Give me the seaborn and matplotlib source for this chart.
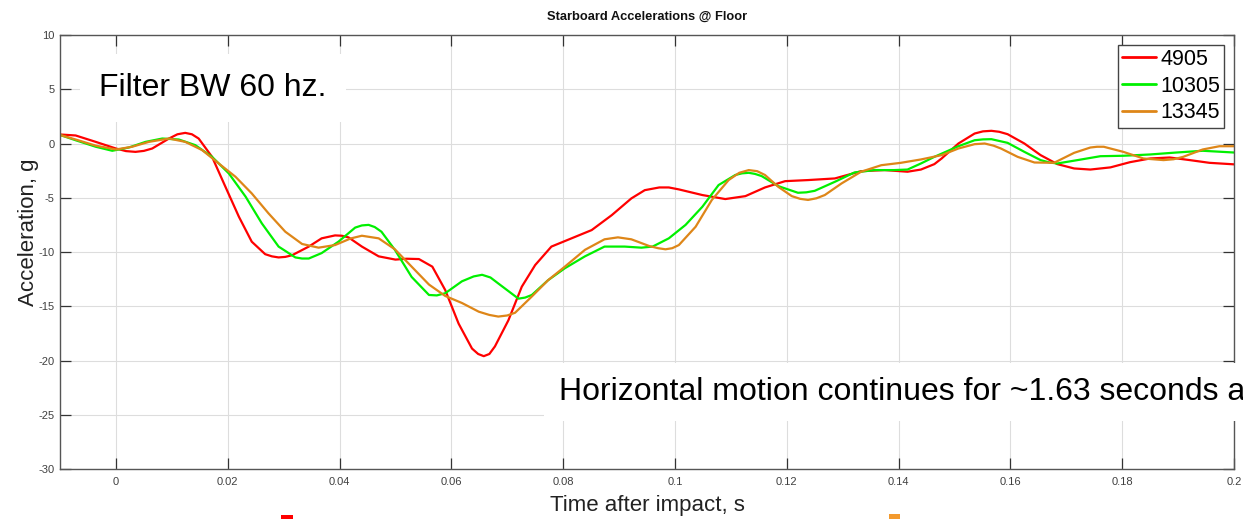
import numpy as np
import pandas as pd
import matplotlib
matplotlib.use("Agg")
import matplotlib.pyplot as plt
import seaborn as sns
from matplotlib.patches import Rectangle

# ---------------- data (time in ms, acceleration in g) ----------------
series_names = ["4905", "10305", "13345"]
series_colors = ["#FF0000", "#00F000", "#DE8618"]

t_4905 = [-9.9, -7.2, -3.6, 0.0, 1.8, 3.5, 5.0, 6.5, 9.5, 11.0, 12.4, 13.6, 14.8, 17.2,
          19.6, 22.0, 24.3, 26.7, 27.9, 29.1, 30.3, 31.5, 34.5, 36.8, 39.2, 40.4, 41.6,
          44.0, 47.0, 50.0, 52.0, 54.2, 56.6, 58.9, 61.3, 63.7, 64.8, 65.8, 66.8, 67.8,
          70.2, 72.6, 75.0, 77.9, 81.5, 85.1, 88.7, 92.2, 94.6, 97.2, 98.9, 100.7, 104.9,
          109.0, 112.6, 116.1, 119.7, 123.8, 128.6, 133.3, 137.5, 141.6, 144.0, 146.4,
          147.7, 150.7, 153.6, 155.1, 156.6, 158.0, 159.5, 162.5, 165.4, 168.4, 171.4,
          174.3, 177.9, 181.4, 185.0, 188.5, 192.1, 195.6, 200.0]
a_4905 = [0.83, 0.74, 0.15, -0.46, -0.7, -0.77, -0.68, -0.46, 0.46, 0.85, 0.98, 0.85,
          0.46, -1.23, -4.0, -6.75, -9.05, -10.2, -10.4, -10.5, -10.45, -10.3, -9.5,
          -8.74, -8.47, -8.5, -8.65, -9.5, -10.4, -10.7, -10.62, -10.65, -11.35, -13.5,
          -16.6, -18.9, -19.4, -19.6, -19.4, -18.7, -16.3, -13.2, -11.2, -9.5, -8.74,
          -7.98, -6.6, -5.06, -4.3, -4.05, -4.05, -4.23, -4.75, -5.12, -4.85, -4.05,
          -3.47, -3.37, -3.22, -2.55, -2.45, -2.6, -2.4, -1.9, -1.38, 0.0, 0.92, 1.12,
          1.17, 1.08, 0.86, 0.0, -1.07, -1.9, -2.3, -2.4, -2.2, -1.72, -1.38, -1.29,
          -1.53, -1.78, -1.92]

t_10305 = [-9.9, -7.2, -3.6, -0.65, 2.3, 5.3, 8.3, 11.25, 14.2, 17.2, 20.2, 23.2, 26.1,
           29.1, 32.1, 33.3, 34.5, 36.8, 39.8, 42.8, 44.0, 45.2, 46.3, 47.5, 49.9, 52.9,
           56.0, 57.4, 58.9, 61.9, 64.0, 65.5, 67.0, 68.4, 72.0, 73.2, 74.4, 77.3, 80.3,
           83.9, 87.4, 91.0, 94.0, 96.0, 98.9, 101.9, 104.9, 107.8, 110.8, 112.0, 113.2,
           114.3, 115.5, 118.5, 122.0, 123.5, 125.0, 128.6, 132.1, 135.7, 139.2, 141.6,
           144.0, 146.4, 150.7, 153.6, 155.1, 156.6, 159.5, 162.5, 165.4, 167.0, 168.4,
           172.0, 176.1, 180.2, 185.0, 189.7, 194.4, 200.0]
a_10305 = [0.77, 0.3, -0.3, -0.67, -0.37, 0.15, 0.46, 0.37, -0.15, -1.23, -2.76, -4.9,
           -7.36, -9.5, -10.5, -10.6, -10.6, -10.1, -9.05, -7.75, -7.55, -7.5, -7.7,
           -8.13, -9.8, -12.3, -13.96, -14.0, -13.8, -12.7, -12.25, -12.1, -12.35, -12.9,
           -14.3, -14.2, -13.96, -12.6, -11.5, -10.4, -9.5, -9.5, -9.6, -9.5, -8.74, -7.5,
           -5.83, -3.83, -2.9, -2.75, -2.7, -2.8, -3.0, -3.93, -4.54, -4.5, -4.36, -3.53,
           -2.67, -2.45, -2.45, -2.4, -1.84, -1.23, -0.25, 0.3, 0.38, 0.4, 0.06, -0.77,
           -1.53, -1.75, -1.84, -1.53, -1.17, -1.13, -1.01, -0.83, -0.67, -0.83]

t_13345 = [-9.9, -7.2, -3.6, 0.0, 2.9, 5.9, 9.5, 12.4, 15.4, 18.4, 21.4, 24.3, 27.3, 30.3,
           33.3, 36.25, 39.2, 42.0, 44.0, 47.0, 49.9, 52.9, 56.0, 58.9, 61.9, 64.9, 66.8,
           68.4, 70.0, 71.4, 74.4, 77.3, 80.3, 83.9, 87.4, 89.8, 92.2, 95.4, 97.0, 98.3,
           99.5, 100.7, 103.7, 106.6, 109.6, 111.5, 113.2, 114.7, 116.1, 118.5, 120.9,
           122.4, 123.8, 125.3, 126.8, 129.8, 133.3, 136.9, 140.4, 144.0, 147.7, 150.7,
           153.6, 155.4, 157.0, 158.3, 161.3, 164.3, 167.8, 171.4, 174.3, 175.5, 176.7,
           180.2, 183.8, 187.4, 189.2, 190.9, 194.4, 197.4, 200.0]
a_13345 = [0.77, 0.37, -0.2, -0.55, -0.3, 0.15, 0.46, 0.15, -0.6, -1.84, -3.07, -4.6,
           -6.44, -8.13, -9.26, -9.6, -9.36, -8.75, -8.5, -8.74, -9.75, -11.35, -13.0,
           -14.05, -14.7, -15.5, -15.8, -15.95, -15.85, -15.6, -14.1, -12.6, -11.35, -9.8,
           -8.83, -8.65, -8.83, -9.45, -9.65, -9.75, -9.65, -9.36, -7.67, -5.2, -3.37,
           -2.7, -2.45, -2.55, -2.9, -4.0, -4.85, -5.1, -5.2, -5.05, -4.75, -3.68, -2.6,
           -2.0, -1.78, -1.47, -1.07, -0.46, -0.06, 0.0, -0.2, -0.46, -1.23, -1.75, -1.78,
           -0.86, -0.37, -0.3, -0.3, -0.77, -1.38, -1.53, -1.45, -1.23, -0.55, -0.25,
           -0.25]

x_ticks = [0, 0.02, 0.04, 0.06, 0.08, 0.1, 0.12, 0.14, 0.16, 0.18, 0.2]
x_tick_labels = ["0", "0.02", "0.04", "0.06", "0.08", "0.1", "0.12", "0.14", "0.16", "0.18", "0.2"]
y_ticks = [-30, -25, -20, -15, -10, -5, 0, 5, 10]
y_tick_labels = ["-30", "-25", "-20", "-15", "-10", "-5", "0", "5", "10"]

title_text = "Starboard Accelerations @ Floor"
x_label = "Time after impact, s"
y_label = "Acceleration, g"
note1 = "Filter BW 60 hz."
note2 = "Horizontal motion continues for ~1.63 seconds a"

# ---------------- build long-form table ----------------
frames = []
for name, t, a in [("4905", t_4905, a_4905), ("10305", t_10305, a_10305), ("13345", t_13345, a_13345)]:
    frames.append(pd.DataFrame({"time": np.array(t) / 1000.0, "accel": a, "series": name}))
df = pd.concat(frames, ignore_index=True)

# ---------------- style ----------------
sns.set_theme(style="white")
plt.rcParams["font.family"] = ["Liberation Sans", "DejaVu Sans"]
plt.rcParams["axes.unicode_minus"] = False

fig = plt.figure(figsize=(12.43, 5.19), dpi=100)
ax = fig.add_axes([0.04827, 0.09634, 0.9445, 0.8362])

sns.lineplot(data=df, x="time", y="accel", hue="series", hue_order=series_names,
             palette=series_colors, estimator=None, sort=True, linewidth=1.6, ax=ax)
for ln in ax.get_lines():
    ln.set_solid_joinstyle("round")
    ln.set_solid_capstyle("round")

ax.set_xlim(-0.01, 0.2)
ax.set_ylim(-30, 10)
ax.set_xticks(x_ticks)
ax.set_xticklabels(x_tick_labels)
ax.set_yticks(y_ticks)
ax.set_yticklabels(y_tick_labels)

ax.grid(True, color="#dddddd", linewidth=0.8)
ax.set_axisbelow(True)
for s in ax.spines.values():
    s.set_color("#555555")
    s.set_linewidth(1.0)
    s.set_visible(True)

ax.tick_params(axis="both", which="major", direction="in", length=8, width=0.9,
               color="#333333", labelsize=8, labelcolor="#404040",
               top=True, right=True, bottom=True, left=True)
ax.tick_params(axis="x", pad=6)
ax.tick_params(axis="y", pad=4)

ax.set_title(title_text, fontsize=9.3, fontweight="bold", pad=11, color="#111111")
ax.set_xlabel(x_label, fontsize=16, color="#222222")
ax.set_ylabel(y_label, fontsize=16, color="#222222")
ax.xaxis.set_label_coords(0.5, -0.06)
ax.yaxis.set_label_coords(-0.018, 0.546)

leg = ax.legend(loc="upper right", fontsize=15.5, frameon=True, fancybox=False,
                framealpha=1, edgecolor="#444444", labelspacing=0.26,
                handlelength=1.55, handletextpad=0.2, borderpad=0.2,
                borderaxespad=0.45, title=None)
leg.get_frame().set_linewidth(1.0)
for line in leg.get_lines():
    line.set_linewidth(2.0)
for txt in leg.get_texts():
    txt.set_color("black")

ax.text(-0.00303, 5.1, note1, fontsize=23, ha="left", va="center", color="black",
        bbox=dict(boxstyle="square,pad=0.6", facecolor="white", edgecolor="none"),
        zorder=10)
ax.text(0.0792, -22.9, note2, fontsize=23, ha="left", va="center", color="black",
        bbox=dict(boxstyle="square,pad=0.45", facecolor="white", edgecolor="none"),
        zorder=10, clip_on=False)

# small coloured fragments at the bottom edge of the reference image
fig.patches.append(Rectangle((281 / 1243, 0), 12 / 1243, 4 / 519, transform=fig.transFigure,
                             facecolor="#FF0000", edgecolor="none"))
fig.patches.append(Rectangle((889 / 1243, 0), 11 / 1243, 5 / 519, transform=fig.transFigure,
                             facecolor="#F39A2E", edgecolor="none"))

fig.savefig("out.png", dpi=100)
